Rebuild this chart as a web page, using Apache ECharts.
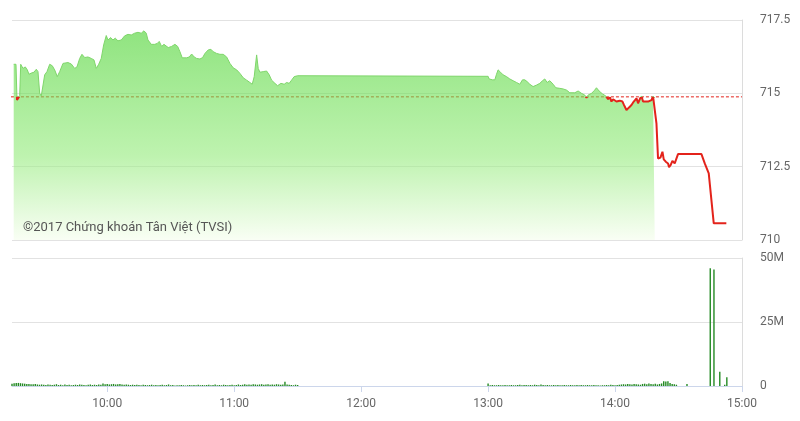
<!DOCTYPE html>
<html>
<head>
<meta charset="utf-8">
<script src="https://cdn.jsdelivr.net/npm/echarts@6/dist/echarts.min.js"></script>
<style>
  html, body { margin: 0; padding: 0; background: #fff; }
  #chart { width: 800px; height: 421px; }
</style>
</head>
<body>
<div id="chart"></div>
<script>
// ---------- DATA ----------
const refPrice = 714.88;

const priceTimes = [
  "09:15:48","09:16:17","09:16:53","09:17:22","09:17:59","09:18:38","09:19:07","09:19:43","09:20:12","09:21:17",
  "09:22:14","09:23:02","09:24:07","09:25:23","09:26:29","09:27:17","09:28:05","09:28:50","09:29:39","09:30:27",
  "09:31:32","09:32:49","09:34:02","09:35:10","09:36:24","09:37:32","09:39:06","09:41:27","09:43:01","09:44:37",
  "09:45:42","09:46:59","09:48:04","09:49:21","09:50:54","09:52:28","09:53:44","09:54:50","09:55:58","09:57:11",
  "09:58:19","09:59:33","10:00:21","10:01:38","10:02:43","10:03:48","10:05:05","10:06:38","10:08:15","10:09:48",
  "10:11:22","10:12:58","10:14:32","10:16:05","10:17:22","10:18:27","10:19:15","10:20:49","10:22:25","10:23:39",
  "10:24:35","10:25:43","10:26:49","10:27:45","10:28:51","10:30:27","10:32:00","10:33:17","10:34:22","10:35:27",
  "10:37:32","10:38:46","10:39:54","10:41:07","10:42:15","10:43:49","10:45:06","10:46:11","10:47:44","10:49:01",
  "10:50:06","10:51:43","10:53:16","10:54:50","10:56:26","10:58:00","10:59:33","11:01:10","11:02:43","11:04:17",
  "11:05:53","11:07:26","11:08:32","11:09:28","11:10:37","11:11:22","11:12:10","11:13:43","11:15:20","11:16:34",
  "11:17:41","11:19:15","11:20:32","11:22:05","11:23:39","11:24:47","11:26:00","11:27:08","11:28:22","11:30:00",
  "13:00:00","13:00:30","13:02:06","13:03:11","13:03:59","13:04:44","13:05:52","13:07:06","13:08:42","13:10:16",
  "13:11:49","13:13:26","13:14:59","13:16:16","13:17:21","13:18:26","13:19:43","13:21:16","13:22:53","13:24:26",
  "13:25:43","13:26:48","13:27:54","13:29:10","13:30:44","13:32:00","13:33:54","13:35:27","13:37:04","13:38:37",
  "13:41:00","13:42:33","13:44:09","13:45:42","13:46:30","13:47:16","13:48:52","13:50:25","13:51:13","13:52:28",
  "13:54:04","13:55:38","13:56:43","13:57:31","13:58:19","13:59:04","14:00:41","14:02:14","14:03:31","14:04:16",
  "14:05:24","14:06:38","14:07:46","14:08:51","14:10:08","14:10:53","14:11:41","14:12:29","14:13:14","14:14:02",
  "14:15:36","14:17:12","14:17:58","14:18:46","14:19:34","14:20:19","14:21:27","14:22:24","14:23:01","14:23:58",
  "14:25:03","14:25:31","14:26:19","14:27:07","14:28:12","14:28:41","14:29:46","14:40:50","14:42:24","14:44:17",
  "14:46:39","14:52:36"
];
const priceValues = [
  715.99,716.02,715.99,714.77,714.77,714.92,715.99,715.96,715.85,715.90,
  715.80,715.65,715.69,715.72,715.82,715.74,715.00,714.91,714.91,715.63,
  715.74,715.99,715.94,715.80,715.57,715.74,716.02,716.05,716.00,715.85,
  715.90,716.19,716.33,716.22,716.24,716.19,716.14,715.85,715.99,716.19,
  716.65,716.97,716.82,716.90,716.82,716.88,716.79,716.82,716.96,717.01,
  716.99,717.05,717.08,717.05,717.13,717.05,716.82,716.67,716.67,716.70,
  716.77,716.60,716.67,716.65,716.56,716.60,716.67,716.60,716.42,716.21,
  716.21,716.24,716.34,716.24,716.19,716.17,716.22,716.36,716.48,716.50,
  716.42,716.36,716.33,716.33,716.24,716.02,715.87,715.80,715.68,715.53,
  715.45,715.37,715.31,715.57,716.31,715.85,715.72,715.74,715.76,715.63,
  715.45,715.34,715.26,715.34,715.31,715.37,715.34,715.45,715.57,715.60,
  715.58,715.49,715.46,715.46,715.65,715.80,715.72,715.63,715.57,715.49,
  715.43,715.37,715.31,715.46,715.46,715.40,715.31,715.23,715.28,715.34,
  715.43,715.49,715.37,715.43,715.31,715.19,715.17,715.15,715.11,715.02,
  715.02,715.08,715.00,714.94,714.85,714.94,715.00,715.11,715.19,715.08,
  714.98,714.91,714.80,714.88,714.72,714.80,714.72,714.75,714.72,714.60,
  714.43,714.52,714.60,714.72,714.83,714.66,714.80,714.91,714.72,714.66,
  714.72,714.77,714.90,714.85,713.98,712.78,712.81,713.01,712.75,712.67,
  712.61,712.48,712.56,712.70,712.61,712.59,712.93,712.93,712.61,712.27,
  710.57,710.57
];
// the green filled area ends just before the sharp drop
const areaEndTime = "14:18:46";

// per-minute volume (millions), morning session from 09:15
const morningStart = "09:15";
const morningVolume = [
  0.9,1.1,1.2,1.2,1.1,1.0,0.9,0.8,0.8,0.7,
  0.7,0.8,0.6,0.5,0.6,0.5,0.4,0.6,0.5,0.4,
  0.5,0.7,0.4,0.5,0.3,0.6,0.4,0.5,0.3,0.4,
  0.5,0.4,0.6,0.5,0.4,0.3,0.5,0.6,0.4,0.5,
  0.4,0.6,0.5,1.0,0.7,0.8,0.6,0.7,0.8,0.6,
  0.7,0.8,0.6,0.5,0.6,0.5,0.4,0.5,0.4,0.5,
  0.4,0.3,0.5,0.4,0.3,0.4,0.5,0.3,0.4,0.3,
  0.4,0.5,0.3,0.4,0.6,0.3,0.4,0.2,0.3,0.3,
  0.4,0.3,0.2,0.3,0.4,0.3,0.4,0.3,0.5,0.3,
  0.4,0.3,0.4,0.5,0.3,0.4,0.6,0.3,0.4,0.3,
  0.5,0.4,0.3,0.4,0.5,0.3,0.4,0.6,0.4,0.5,
  0.7,0.5,0.6,0.5,0.7,0.6,0.5,0.6,0.7,0.5,
  0.6,0.7,0.5,0.6,0.5,0.7,0.6,0.5,0.6,1.7,
  0.6,0.5,0.4,0.3,0.5,0.4
];
// per-minute volume (millions), afternoon session from 13:00
const afternoonStart = "13:00";
const afternoonVolume = [
  1.0,0.3,0.4,0.3,0.3,0.4,0.3,0.3,0.4,0.3,
  0.3,0.4,0.3,0.3,0.4,0.5,0.3,0.4,0.4,0.3,
  0.4,0.3,0.5,0.4,0.3,0.6,0.4,0.3,0.4,0.3,
  0.3,0.4,0.3,0.4,0.3,0.3,0.4,0.3,0.3,0.4,
  0.3,0.3,0.4,0.3,0.4,0.3,0.3,0.4,0.3,0.3,
  0.4,0.3,0.3,0.2,0.3,0.3,0.4,0.3,0.5,0.4,
  0.3,0.4,0.5,0.6,0.7,0.6,0.8,0.7,0.6,0.8,
  0.7,0.6,0.5,0.8,0.9,0.7,1.0,0.8,0.7,0.9,
  0.6,0.8,1.0,1.9,1.8,1.9,1.2,0.8,0.7,0.5
];
// late (closing) trades
const lateVolumeTimes = ["14:34:00","14:45:00","14:46:45","14:49:30","14:51:50","14:52:50"];
const lateVolumeValues = [0.8, 46.0, 45.5, 5.6, 0.5, 3.4];

const xTickTimes = ["10:00","11:00","12:00","13:00","14:00","15:00"];

// ---------- BUILD ----------
function toMin(s) {
  const p = s.split(':').map(Number);
  return p[0] * 60 + p[1] + (p[2] || 0) / 60;
}
function fmtTime(m) {
  const h = Math.floor(m / 60), mm = Math.round(m - h * 60);
  return h + ':' + (mm < 10 ? '0' : '') + mm;
}
const priceData = priceTimes.map((t, i) => [toMin(t), priceValues[i]]);
const areaEnd = toMin(areaEndTime);
const areaData = priceData.filter(d => d[0] <= areaEnd + 1e-6);

const volData = [];
const ms = toMin(morningStart);
morningVolume.forEach((v, i) => volData.push([ms + i, v]));
const as = toMin(afternoonStart);
afternoonVolume.forEach((v, i) => volData.push([as + i, v]));
lateVolumeTimes.forEach((t, i) => volData.push([toMin(t), lateVolumeValues[i]]));

const xMin = toMin("09:15"), xMax = toMin("15:00");
const xTicks = xTickTimes.map(toMin);
const refData = [[xMin - 0.5, refPrice], [xMax, refPrice]];

const labelFont = { color: '#666', fontSize: 12, fontFamily: 'Roboto' };

const chart = echarts.init(document.getElementById('chart'), null, { renderer: 'canvas' });
chart.setOption({
  animation: false,
  backgroundColor: '#fff',
  grid: [
    { left: 12, right: 58, top: 20, height: 220 },
    { left: 12, right: 58, top: 258, height: 128 }
  ],
  xAxis: [
    { type: 'value', gridIndex: 0, min: xMin, max: xMax, show: false, splitLine: { show: false } },
    {
      type: 'value', gridIndex: 1, min: xMin, max: xMax,
      axisLine: { show: true, lineStyle: { color: '#ccd6eb' } },
      axisTick: { show: true, length: 6, lineStyle: { color: '#ccd6eb' }, customValues: xTicks },
      axisLabel: Object.assign({ margin: 12, customValues: xTicks, formatter: v => fmtTime(v) }, labelFont),
      splitLine: { show: false }
    }
  ],
  yAxis: [
    {
      type: 'value', gridIndex: 0, position: 'right', min: 710, max: 717.5, interval: 2.5,
      axisLine: { show: true, lineStyle: { color: '#dcdcdc' } },
      axisTick: { show: false },
      axisLabel: Object.assign({ margin: 18, formatter: v => String(v) }, labelFont),
      splitLine: { show: true, lineStyle: { color: '#e2e2e2' } }
    },
    {
      type: 'value', gridIndex: 1, position: 'right', min: 0, max: 50, interval: 25,
      axisLine: { show: true, lineStyle: { color: '#dcdcdc' } },
      axisTick: { show: false },
      axisLabel: Object.assign({ margin: 18, formatter: v => v === 0 ? '0' : v + 'M' }, labelFont),
      splitLine: { show: true, lineStyle: { color: '#e2e2e2' } }
    }
  ],
  visualMap: {
    show: false, type: 'piecewise', seriesIndex: 2, dimension: 1,
    pieces: [
      { gte: 700, lt: refPrice, color: '#e3231b' },
      { gte: refPrice, lte: 730, color: 'rgba(255,255,255,0)' }
    ],
    outOfRange: { color: 'rgba(255,255,255,0)' }
  },
  series: [
    {
      name: 'ref', type: 'line', xAxisIndex: 0, yAxisIndex: 0, data: refData, z: 1,
      showSymbol: false, symbol: 'none', clip: false,
      lineStyle: { color: '#e3231b', type: [3, 2], width: 1 },
      itemStyle: { color: '#e3231b' }
    },
    {
      name: 'area', type: 'line', xAxisIndex: 0, yAxisIndex: 0, data: areaData, z: 2,
      showSymbol: false, symbol: 'none',
      lineStyle: { color: '#7fd66b', width: 1 },
      areaStyle: {
        origin: 'start', opacity: 0.6,
        color: new echarts.graphic.LinearGradient(0, 0, 0, 1, [
          { offset: 0, color: 'rgb(70,210,43)' },
          { offset: 0.6, color: 'rgb(147,235,122)' },
          { offset: 1, color: 'rgb(245,254,237)' }
        ])
      }
    },
    {
      name: 'price', type: 'line', xAxisIndex: 0, yAxisIndex: 0, data: priceData, z: 3,
      showSymbol: false, symbol: 'none',
      lineStyle: { width: 2 }
    },
    {
      name: 'volume', type: 'bar', xAxisIndex: 1, yAxisIndex: 1, data: volData,
      barWidth: 1.4, itemStyle: { color: '#238a23' }
    }
  ],
  graphic: [
    {
      type: 'text', left: 23, top: 221, z: 100,
      style: { text: '©2017 Chứng khoán Tân Việt (TVSI)', fill: '#555', font: '13px Roboto' }
    }
  ]
});
</script>
</body>
</html>
